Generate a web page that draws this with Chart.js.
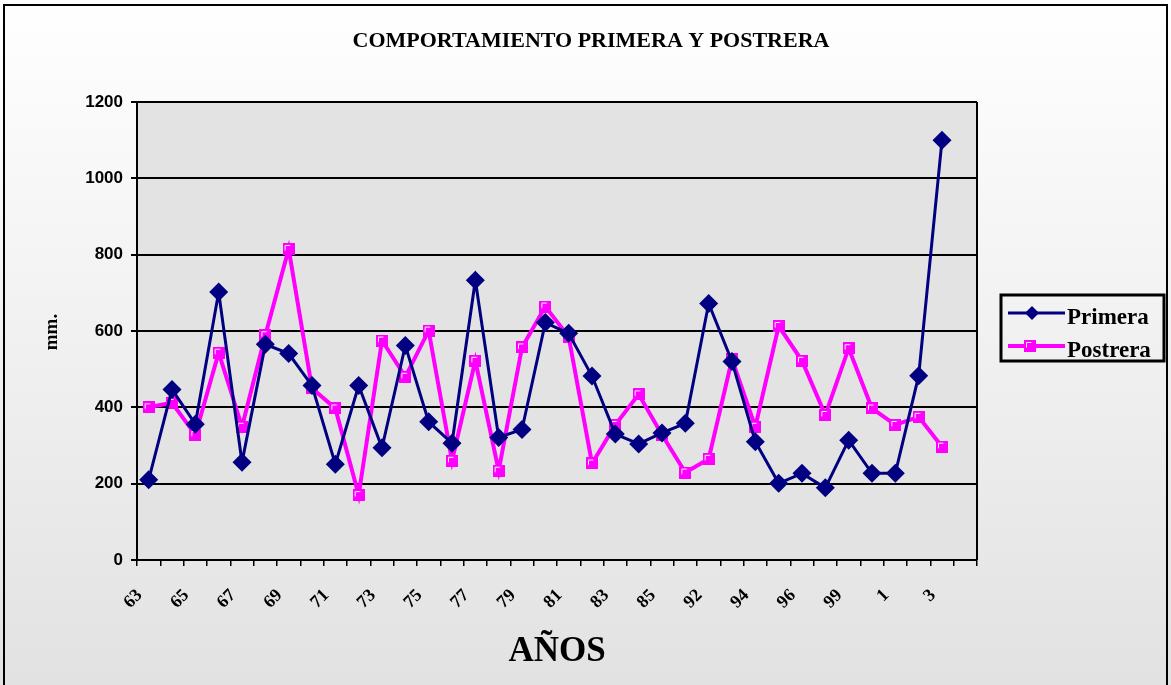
<!DOCTYPE html>
<html>
<head>
<meta charset="utf-8">
<script src="https://cdn.jsdelivr.net/npm/chart.js@4/dist/chart.umd.min.js"></script>
<style>
html,body{margin:0;padding:0;background:#fff;}
#wrap{width:1171px;height:685px;position:relative;}
</style>
</head>
<body>
<div id="wrap"><canvas id="c" width="1171" height="685"></canvas></div>
<script>
const chartTitle = 'COMPORTAMIENTO PRIMERA Y POSTRERA';
const xTitle = 'AÑOS';
const yTitle = 'mm.';
const years = ['63','64','65','66','67','68','69','70','71','72','73','74','75','76','77','78','79','80','81','82','83','84','85','91','92','93','94','95','96','98','99','0','1','2','3','4'];
const primera = [210,447,356,702,256,565,541,457,251,457,294,562,362,306,733,321,342,622,594,482,330,304,333,358,672,520,310,201,227,189,314,227,227,483,1100,null];
const postrera = [400,412,328,543,349,589,815,450,397,170,575,480,601,260,522,234,557,664,585,253,354,434,328,229,265,526,349,613,522,380,555,397,354,375,297,null];
const yTicks = [0,200,400,600,800,1000,1200];

const SERIF = '"Liberation Serif", "Times New Roman", serif';
const SANS = '"Liberation Sans", Arial, sans-serif';

function squareMarker(size){
  const c = document.createElement('canvas');
  c.width = size; c.height = size;
  const g = c.getContext('2d');
  g.fillStyle = '#FF00FF';
  g.fillRect(0,0,size,size);
  g.strokeStyle = '#FFFFFF';
  g.lineWidth = 1;
  g.beginPath();
  g.moveTo(2.5, size*0.62);
  g.lineTo(2.5, 2.5);
  g.lineTo(size*0.62, 2.5);
  g.stroke();
  return c;
}
const sq = squareMarker(12);
const sqLegend = squareMarker(12);

const decor = {
  id:'decor',
  beforeDraw(chart){
    const ctx = chart.ctx, W = chart.width, H = chart.height;
    ctx.save();
    const gr = ctx.createLinearGradient(0,0,0,H);
    gr.addColorStop(0,'#ffffff');
    gr.addColorStop(1,'#e2e2e2');
    ctx.fillStyle = gr;
    ctx.fillRect(0,0,W,H);
    ctx.strokeStyle = '#000';
    ctx.lineWidth = 2;
    ctx.strokeRect(4,5,1163,700);
    const a = chart.chartArea;
    ctx.fillStyle = '#e3e3e3';
    ctx.fillRect(a.left,a.top,a.right-a.left,a.bottom-a.top);
    ctx.restore();
  },
  beforeDatasetsDraw(chart){
    const ctx = chart.ctx, a = chart.chartArea;
    ctx.save();
    ctx.strokeStyle = '#000';
    ctx.lineWidth = 2;
    ctx.beginPath();
    ctx.moveTo(a.right, a.top);
    ctx.lineTo(a.right, a.bottom);
    ctx.stroke();
    ctx.restore();
  },
  afterDraw(chart){
    const ctx = chart.ctx;
    ctx.save();
    ctx.fillStyle = '#000';
    ctx.font = 'bold 22px ' + SERIF;
    ctx.textAlign = 'center';
    ctx.textBaseline = 'alphabetic';
    ctx.fillText(chartTitle, 591, 47);
    ctx.font = 'bold 35px ' + SERIF;
    ctx.fillText(xTitle, 557, 661);
    ctx.save();
    ctx.translate(57, 332);
    ctx.rotate(-Math.PI/2);
    ctx.font = 'bold 19px ' + SERIF;
    ctx.textAlign = 'center';
    ctx.fillText(yTitle, 0, 0);
    ctx.restore();
    ctx.strokeStyle = '#000';
    ctx.lineWidth = 3;
    ctx.strokeRect(1001, 295, 163, 66);
    const rows = [313, 346];
    chart.data.datasets.forEach((ds, i) => {
      const y = rows[i];
      ctx.strokeStyle = ds.borderColor;
      ctx.lineWidth = ds.borderWidth;
      ctx.beginPath();
      ctx.moveTo(1008, y);
      ctx.lineTo(1065, y);
      ctx.stroke();
      if (i === 0) {
        ctx.fillStyle = ds.borderColor;
        ctx.beginPath();
        ctx.moveTo(1032, y-7); ctx.lineTo(1039, y); ctx.lineTo(1032, y+7); ctx.lineTo(1025, y);
        ctx.closePath(); ctx.fill();
      } else {
        ctx.drawImage(sqLegend, 1024, y-6, 12, 12);
      }
      ctx.fillStyle = '#000';
      ctx.font = 'bold 23px ' + SERIF;
      ctx.textAlign = 'left';
      ctx.fillText(ds.label, 1067, y + 11);
    });
    ctx.restore();
  }
};

new Chart(document.getElementById('c'), {
  type:'line',
  data:{
    labels: years,
    datasets:[
      {label:'Primera', data: primera, borderColor:'#000080', backgroundColor:'#000080', borderWidth:3,
       pointStyle:'rectRot', pointRadius:9.5, pointHoverRadius:9.5, pointBackgroundColor:'#000080', pointBorderColor:'#000080', pointBorderWidth:0, tension:0},
      {label:'Postrera', data: postrera, borderColor:'#FF00FF', backgroundColor:'#FF00FF', borderWidth:4,
       pointStyle: sq, pointRadius:6, pointHoverRadius:6, tension:0}
    ]
  },
  options:{
    responsive:false,
    animation:false,
    events:[],
    layout:{padding:{top:102, right:194, left:0, bottom:0}},
    plugins:{legend:{display:false}, title:{display:false}, tooltip:{enabled:false}},
    scales:{
      x:{
        offset:true,
        grid:{offset:true, drawOnChartArea:false, drawTicks:true, tickLength:6, color:'#000', lineWidth:1.5},
        border:{display:true, color:'#000', width:2},
        ticks:{autoSkip:false, maxRotation:45, minRotation:45, color:'#000', padding:19, labelOffset:-9,
          font:{family:SERIF, size:18, weight:'bold'},
          callback:function(v, i){ return i % 2 === 0 ? years[i] : ''; }},
        afterFit(s){ s.height = 125; }
      },
      y:{
        min:0, max:1200,
        afterBuildTicks(s){ s.ticks = yTicks.map(v => ({value:v})); },
        grid:{color:'#000', lineWidth:2, tickLength:6, drawTicks:true},
        border:{display:true, color:'#000', width:2},
        ticks:{color:'#000', padding:8, font:{family:SANS, size:17, weight:'bold'},
          callback:function(v){ return String(v); }},
        afterFit(s){ s.width = 137; }
      }
    }
  },
  plugins:[decor]
});
</script>
</body>
</html>
